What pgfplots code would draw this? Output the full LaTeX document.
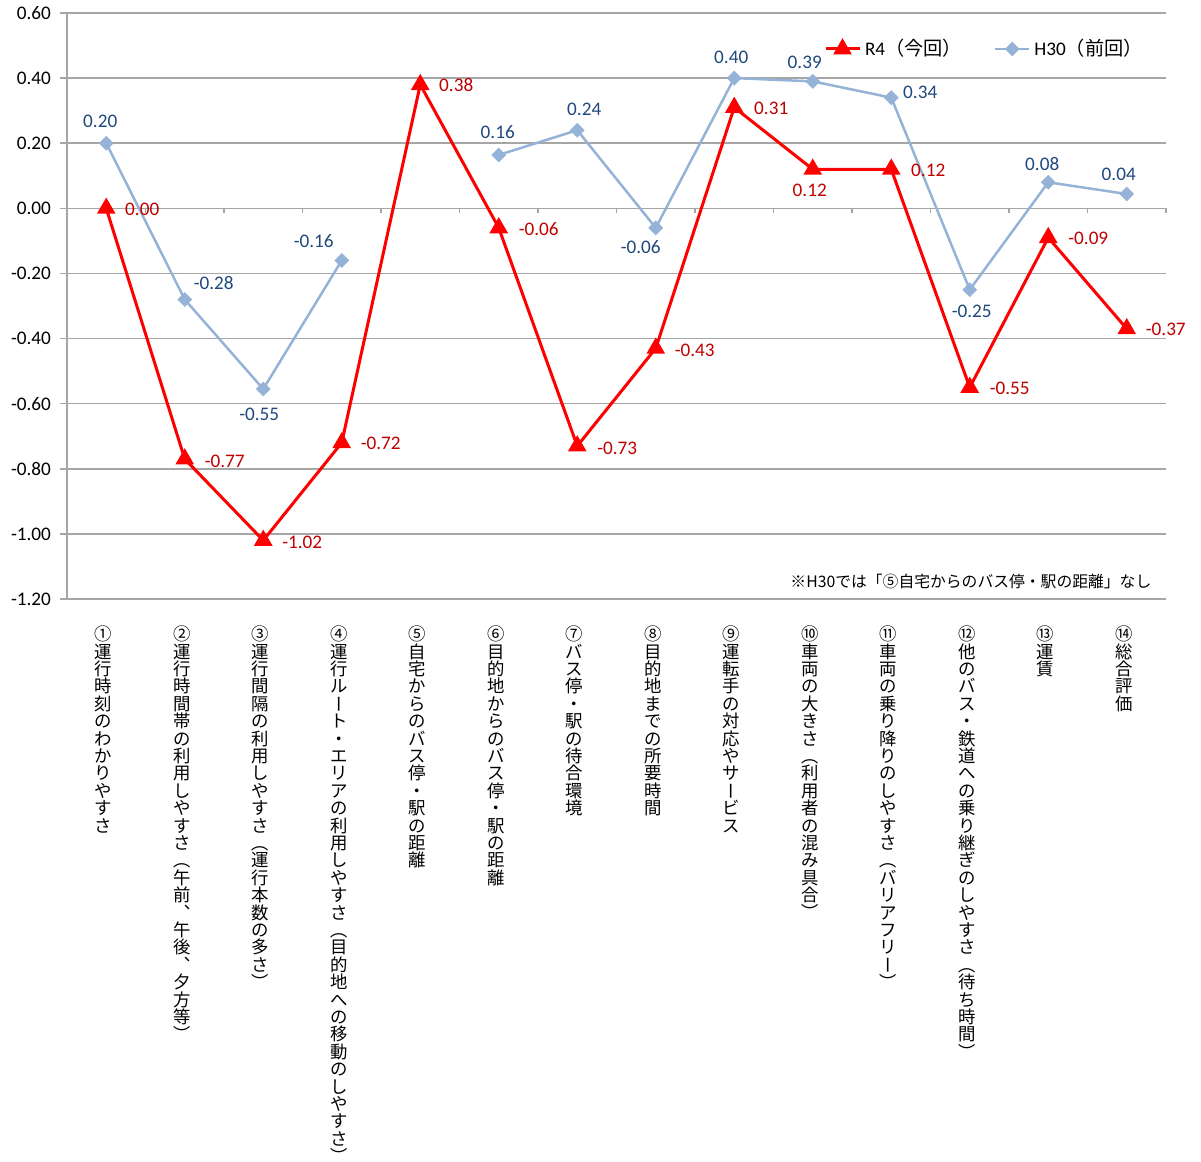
\documentclass[border=0pt]{standalone}
\usepackage{fontspec}
\usepackage{graphicx}
\setmainfont{Carlito}
\newfontfamily\cjk{Noto Sans CJK JP}
\usepackage{pgfplots}
\usepackage{pgfplotstable}
\pgfplotsset{compat=1.18}
\definecolor{gridc}{RGB}{166,166,166}
\definecolor{rline}{RGB}{255,0,0}
\definecolor{rlab}{RGB}{192,0,0}
\definecolor{bline}{RGB}{149,179,215}
\definecolor{blab}{RGB}{31,73,125}
\def\lbl{\fontsize{9.6bp}{11bp}\selectfont}
\def\vlbl{\cjk\fontsize{8.7bp}{10bp}\selectfont}

% vertical (tategaki) stacking of characters
\def\vstrut{\vrule height .88em depth .12em width 0pt\relax}
\def\vrot#1{\smash{\rotatebox[origin=c]{-90}{\hbox{\vstrut#1}}}}
\def\vcomma{︑}
\ExplSyntaxOn
\cs_new:Npn \vcell #1 {\hbox_to_wd:nn {1em} {\hss \vstrut #1 \hss}}
\NewDocumentCommand\vtext{m}{\vbox{\offinterlineskip \tl_map_inline:nn {#1} {\vcell{##1}}}}
\ExplSyntaxOff
\def\LP{\vrot{（}}
\def\RP{\vrot{）}}
\def\CB{\vrot{ー}}

\pgfplotstableread{
x y lab dx dy
0 0.00 0.00 18 -0.5
1 -0.77 -0.77 20 -1
2 -1.02 -1.02 19.5 -1
3 -0.72 -0.72 19.5 -0.5
4 0.38 0.38 18 0
5 -0.06 -0.06 20 -0.5
6 -0.73 -0.73 20 -1
7 -0.43 -0.43 19.5 -1
8 0.31 0.31 18.5 -0.5
9 0.12 0.12 -1.5 -10.5
10 0.12 0.12 18.5 -0.5
11 -0.55 -0.55 20 -0.5
12 -0.09 -0.09 20 -0.5
13 -0.37 -0.37 19.5 -0.5
}\rfour

\pgfplotstableread{
x y lab dx dy
0 0.20 0.20 -3 11
1 -0.28 -0.28 14.5 8
2 -0.555 -0.55 -2 -12.5
3 -0.16 -0.16 -14 9.5
4 nan x 0 0
5 0.164 0.16 -0.5 11.5
6 0.24 0.24 3.5 10.5
7 -0.06 -0.06 -7.5 -9.5
8 0.40 0.40 -1.5 10.5
9 0.39 0.39 -4 9.5
10 0.34 0.34 14.5 2.5
11 -0.25 -0.25 1 -11
12 0.08 0.08 -3 9
13 0.044 0.04 -4 10
}\hthirty

\pgfplotsset{
  lblplot/.style={forget plot, draw=none, mark=none,
    nodes near coords, point meta=explicit symbolic,
    visualization depends on={\thisrow{dx}\as\ldx},
    visualization depends on={\thisrow{dy}\as\ldy},
    every node near coord/.append style={anchor=center, xshift=\ldx*1bp, yshift=\ldy*1bp, text=#1, font=\lbl, inner sep=0pt}}
}

\begin{document}
\begin{tikzpicture}
\path[use as bounding box] (-33.5bp,-281.5bp) rectangle (567bp,299.5bp);
\begin{axis}[
  scale only axis, width=549.5bp, height=293bp,
  xmin=-0.5, xmax=13.5, ymin=-1.2, ymax=0.6,
  axis lines*=left,
  axis line style={gridc, line width=0.75bp},
  ytick={-1.2,-1,-0.8,-0.6,-0.4,-0.2,0,0.2,0.4,0.6},
  ymajorgrids, major grid style={gridc, line width=0.75bp},
  tick align=outside, major tick length=3.5bp,
  ytick style={gridc, line width=0.75bp},
  xtick style={draw=none},
  scaled y ticks=false,
  yticklabel style={font=\lbl, xshift=-1bp, /pgf/number format/fixed, /pgf/number format/fixed zerofill, /pgf/number format/precision=2, /pgf/number format/assume math mode=true},
  xtick={0,...,13},
  xticklabels={
    {\vtext{①運行時刻のわかりやすさ}},
    {\vtext{②運行時間帯の利用しやすさ\LP 午前\vcomma 午後\vcomma 夕方等\RP}},
    {\vtext{③運行間隔の利用しやすさ\LP 運行本数の多さ\RP}},
    {\vtext{④運行ル\CB ト・エリアの利用しやすさ\LP 目的地への移動のしやすさ\RP}},
    {\vtext{⑤自宅からのバス停・駅の距離}},
    {\vtext{⑥目的地からのバス停・駅の距離}},
    {\vtext{⑦バス停・駅の待合環境}},
    {\vtext{⑧目的地までの所要時間}},
    {\vtext{⑨運転手の対応やサ\CB ビス}},
    {\vtext{⑩車両の大きさ\LP 利用者の混み具合\RP}},
    {\vtext{⑪車両の乗り降りのしやすさ\LP バリアフリ\CB\RP}},
    {\vtext{⑫他のバス・鉄道への乗り継ぎのしやすさ\LP 待ち時間\RP}},
    {\vtext{⑬運賃}},
    {\vtext{⑭総合評価}}},
  xticklabel style={anchor=north, font=\vlbl, inner sep=0pt, xshift=-1.5bp},
  xticklabel shift=9.5bp,
  unbounded coords=jump,
  legend columns=2,
  reverse legend,
  legend style={at={(0.683,0.9386)}, anchor=west, draw=none, fill=none, font=\lbl,
    /tikz/every even column/.append style={column sep=14bp}},
  legend cell align=left,
  clip=false,
]
\draw[gridc, line width=0.75bp] (axis cs:-0.5,0) -- (axis cs:13.5,0);
\pgfplotsinvokeforeach{0,...,13}{\draw[gridc, line width=0.75bp] (axis cs:#1+0.5,0) -- ++(0pt,-2.5bp);}
\addplot[bline, line width=1.25bp, mark=square*, mark size=2bp, mark options={rotate=45, solid}]
  table[x=x, y=y]{\hthirty};
\addlegendentry{H30\cjk（前回）}
\addplot[rline, line width=1.5bp, mark=triangle*, mark size=3.9bp, mark options={solid}]
  table[x=x, y=y]{\rfour};
\addlegendentry{R4\cjk（今回）}
\addplot[lblplot=blab] table[x=x, y=y, meta=lab]{\hthirty};
\addplot[lblplot=rlab] table[x=x, y=y, meta=lab]{\rfour};
\node[anchor=east, inner sep=0pt, font=\cjk\fontsize{7.9bp}{9bp}\selectfont] at (rel axis cs:0.987,0.0307) {※H30では「⑤自宅からのバス停・駅の距離」なし};
\end{axis}
\end{tikzpicture}
\end{document}
